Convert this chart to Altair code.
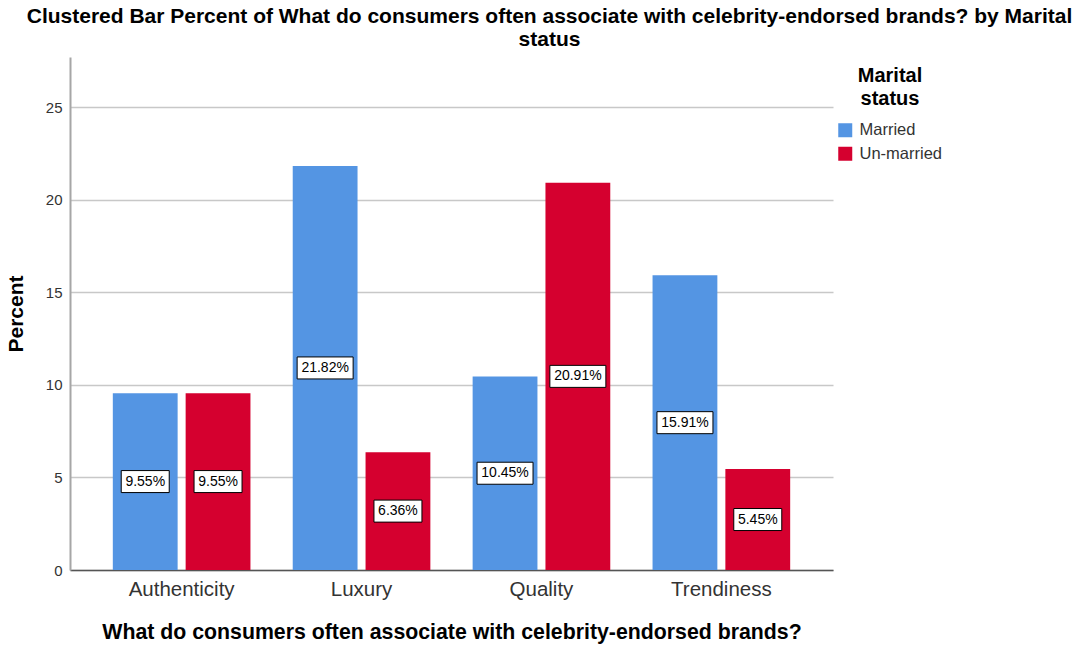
import altair as alt
import pandas as pd

# Clustered bar: share of respondents by association and marital status
categories = ["Authenticity", "Luxury", "Quality", "Trendiness"]
statuses = ["Married", "Un-married"]
married = [9.55, 21.82, 10.45, 15.91]
unmarried = [9.55, 6.36, 20.91, 5.45]
colors = ["#5495E3", "#D5002F"]

rows = []
for cat, m, u in zip(categories, married, unmarried):
    rows.append({"category": cat, "status": "Married", "value": m})
    rows.append({"category": cat, "status": "Un-married", "value": u})
df = pd.DataFrame(rows)
df["label"] = df["value"].map(lambda v: f"{v:.2f}%")
df["mid"] = df["value"] / 2
df["w"] = df["label"].map(lambda s: "l" if len(s) > 5 else "s")

FONT = "Liberation Sans"

x_enc = alt.X(
    "category:N",
    sort=categories,
    scale=alt.Scale(paddingInner=0.235, paddingOuter=0.238),
    axis=alt.Axis(
        title="What do consumers often associate with celebrity-endorsed brands?",
        labelAngle=0,
        labelFontSize=20.5,
        labelColor="#333333",
        labelPadding=9,
        ticks=False,
        domainColor="#555555",
        domainWidth=1.5,
        titleFontSize=21.3,
        titleFontWeight="bold",
        titleColor="#000000",
        titlePadding=22,
        grid=False,
    ),
)
xoff = alt.XOffset("status:N", sort=statuses, scale=alt.Scale(paddingInner=0.11))

bars = alt.Chart(df).mark_bar(strokeWidth=0).encode(
    x=x_enc,
    xOffset=xoff,
    y=alt.Y(
        "value:Q",
        scale=alt.Scale(domain=[0, 27.7], nice=False),
        axis=alt.Axis(
            title="Percent",
            values=[0, 5, 10, 15, 20, 25],
            labelFontSize=15,
            labelColor="#333333",
            labelPadding=8,
            ticks=False,
            domainColor="#a6a6a6",
            domainWidth=2,
            gridColor="#c8c8c8",
            gridWidth=1.5,
            titleFontSize=21,
            titleFontWeight="bold",
            titleColor="#000000",
            titlePadding=19,
        ),
    ),
    color=alt.Color(
        "status:N",
        sort=statuses,
        scale=alt.Scale(domain=statuses, range=colors),
        legend=alt.Legend(
            title=["Marital", "status"],
            orient="none",
            legendX=767,
            legendY=9,
            titleFontSize=20,
            titleFontWeight="bold",
            titleColor="#000000",
            titleAnchor="middle",
            titleAlign="center",
            titleLineHeight=23,
            titlePadding=13,
            labelFontSize=16.5,
            labelColor="#333333",
            symbolType="square",
            symbolSize=196,
            symbolStrokeWidth=0,
            rowPadding=6.5,
            labelOffset=6,
        ),
    ),
)

box_l = "M-1,-0.393L1,-0.393L1,0.393L-1,0.393Z"
box_s = "M-0.857,-0.393L0.857,-0.393L0.857,0.393L-0.857,0.393Z"

boxes = alt.Chart(df).mark_point(
    filled=True, fill="white", stroke="black", strokeWidth=1, opacity=1, size=3136
).encode(
    x=alt.X("category:N", sort=categories),
    xOffset=alt.XOffset("status:N", sort=statuses),
    y=alt.Y("mid:Q"),
    shape=alt.Shape(
        "w:N", scale=alt.Scale(domain=["s", "l"], range=[box_s, box_l]), legend=None
    ),
)

texts = alt.Chart(df).mark_text(fontSize=14, color="#000000", font=FONT).encode(
    x=alt.X("category:N", sort=categories),
    xOffset=alt.XOffset("status:N", sort=statuses),
    y=alt.Y("mid:Q"),
    text="label:N",
)

chart = (
    alt.layer(bars, boxes, texts)
    .properties(
        width=763,
        height=513,
        autosize=alt.AutoSizeParams(type="none"),
        padding={"left": 70, "top": 57, "right": 249, "bottom": 76},
        title=alt.TitleParams(
            text=[
                "Clustered Bar Percent of What do consumers often associate with celebrity-endorsed brands? by Marital",
                "status",
            ],
            fontSize=21,
            fontWeight="bold",
            color="#000000",
            anchor="middle",
            dx=98,
            offset=7,
            lineHeight=23,
            font=FONT,
        ),
    )
    .configure(font=FONT, background="white")
    .configure_view(stroke=None)
)

chart.save("out.html", embed_options={"renderer": "svg", "actions": False})
